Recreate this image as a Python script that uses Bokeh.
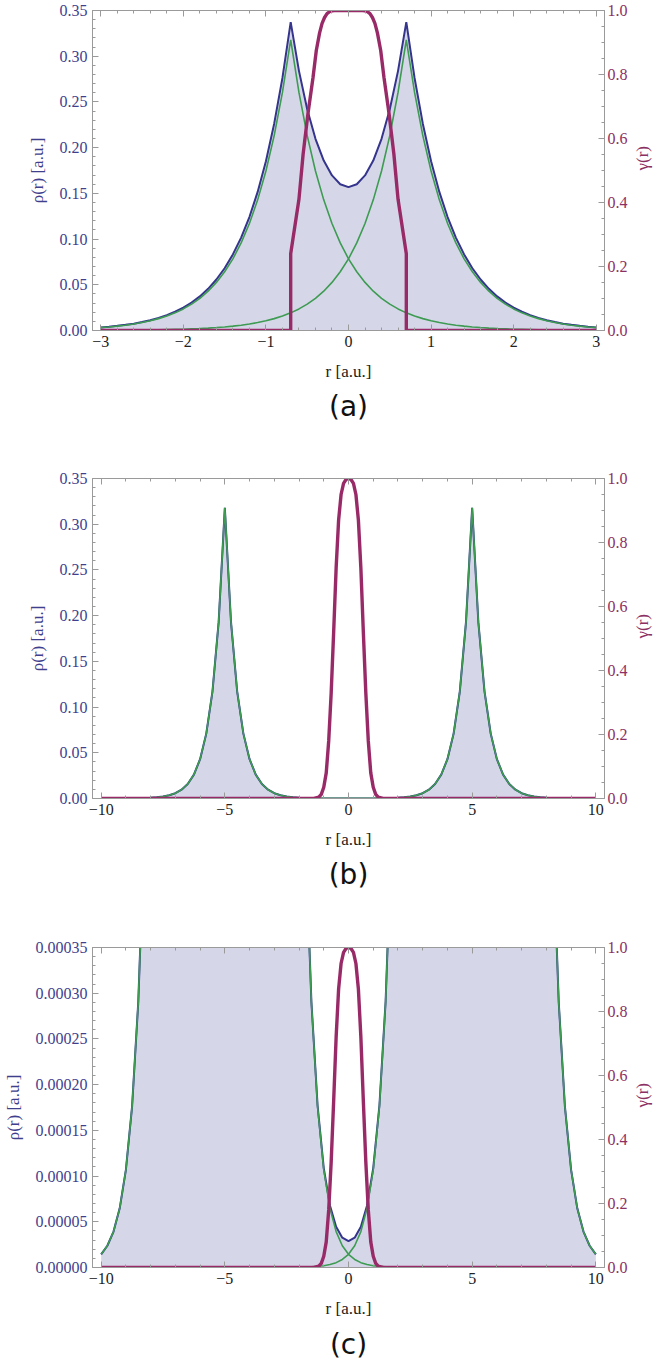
import math
from bokeh.plotting import figure
from bokeh.models import Range1d, LinearAxis, FixedTicker, CustomJSTickFormatter
from bokeh.layouts import column
from bokeh.embed import file_html
from bokeh.resources import INLINE

# ---------------- data: panel (a), nuclei at r = -0.7 and +0.7 ----------------
r_a = [-3.0, -2.9, -2.8, -2.7, -2.6, -2.5, -2.4, -2.3, -2.2, -2.1, -2.0, -1.9, -1.8, -1.7, -1.6,
       -1.5, -1.4, -1.3, -1.2, -1.1, -1.0, -0.9, -0.8, -0.7, -0.6, -0.5, -0.4, -0.3, -0.2, -0.1,
       0.0, 0.1, 0.2, 0.3, 0.4, 0.5, 0.6, 0.7, 0.8, 0.9, 1.0, 1.1, 1.2, 1.3, 1.4,
       1.5, 1.6, 1.7, 1.8, 1.9, 2.0, 2.1, 2.2, 2.3, 2.4, 2.5, 2.6, 2.7, 2.8, 2.9, 3.0]
rho_right_a = [0.0002, 0.0002, 0.0003, 0.0004, 0.0004, 0.0005, 0.0006, 0.0008, 0.0010, 0.0012,
               0.0014, 0.0018, 0.0021, 0.0026, 0.0032, 0.0039, 0.0048, 0.0058, 0.0071, 0.0087,
               0.0106, 0.0130, 0.0158, 0.0193, 0.0236, 0.0288, 0.0352, 0.0430, 0.0526, 0.0642,
               0.0784, 0.0958, 0.1170, 0.1429, 0.1745, 0.2132, 0.2604, 0.318, 0.2604, 0.2132,
               0.1745, 0.1429, 0.1170, 0.0958, 0.0784, 0.0642, 0.0526, 0.0430, 0.0352, 0.0288,
               0.0236, 0.0193, 0.0158, 0.0130, 0.0106, 0.0087, 0.0071, 0.0058, 0.0048, 0.0039, 0.0032]
rho_left_a = [0.0032, 0.0039, 0.0048, 0.0058, 0.0071, 0.0087, 0.0106, 0.0130, 0.0158, 0.0193,
              0.0236, 0.0288, 0.0352, 0.0430, 0.0526, 0.0642, 0.0784, 0.0958, 0.1170, 0.1429,
              0.1745, 0.2132, 0.2604, 0.318, 0.2604, 0.2132, 0.1745, 0.1429, 0.1170, 0.0958,
              0.0784, 0.0642, 0.0526, 0.0430, 0.0352, 0.0288, 0.0236, 0.0193, 0.0158, 0.0130,
              0.0106, 0.0087, 0.0071, 0.0058, 0.0048, 0.0039, 0.0032, 0.0026, 0.0021, 0.0018,
              0.0014, 0.0012, 0.0010, 0.0008, 0.0006, 0.0005, 0.0004, 0.0004, 0.0003, 0.0002, 0.0002]
rho_total_a = [0.0034, 0.0041, 0.0051, 0.0062, 0.0075, 0.0092, 0.0112, 0.0138, 0.0168, 0.0205,
               0.0250, 0.0306, 0.0373, 0.0456, 0.0558, 0.0681, 0.0832, 0.1016, 0.1241, 0.1516,
               0.1851, 0.2262, 0.2762, 0.3373, 0.2840, 0.2420, 0.2097, 0.1859, 0.1696, 0.1600,
               0.1568, 0.1600, 0.1696, 0.1859, 0.2097, 0.2420, 0.2840, 0.3373, 0.2762, 0.2262,
               0.1851, 0.1516, 0.1241, 0.1016, 0.0832, 0.0681, 0.0558, 0.0456, 0.0373, 0.0306,
               0.0250, 0.0205, 0.0168, 0.0138, 0.0112, 0.0092, 0.0075, 0.0062, 0.0051, 0.0041, 0.0034]
gamma_r_a = [-3.0, -0.7, -0.7, -0.6, -0.55, -0.49, -0.43, -0.39, -0.35, -0.32, -0.29, -0.26, -0.23,
             -0.2, -0.17, 0.0, 0.17, 0.2, 0.23, 0.26, 0.29, 0.32, 0.35, 0.39, 0.43, 0.49, 0.55,
             0.6, 0.7, 0.7, 3.0]
gamma_a = [0.0, 0.0, 0.24, 0.41, 0.55, 0.68, 0.79, 0.875, 0.93, 0.96, 0.978, 0.99, 0.996,
           0.999, 1.0, 1.0, 1.0, 0.999, 0.996, 0.99, 0.978, 0.96, 0.93, 0.875, 0.79, 0.68, 0.55,
           0.41, 0.24, 0.0, 0.0]

# ---------------- data: panels (b) and (c), nuclei at r = -5 and +5 ----------------
r_bc = [-10.0, -9.75, -9.5, -9.25, -9.0, -8.75, -8.5, -8.25, -8.0, -7.75, -7.5, -7.25, -7.0, -6.75,
        -6.5, -6.25, -6.0, -5.75, -5.5, -5.25, -5.0, -4.75, -4.5, -4.25, -4.0, -3.75, -3.5, -3.25,
        -3.0, -2.75, -2.5, -2.25, -2.0, -1.75, -1.5, -1.25, -1.0, -0.75, -0.5, -0.25, 0.0,
        0.25, 0.5, 0.75, 1.0, 1.25, 1.5, 1.75, 2.0, 2.25, 2.5, 2.75, 3.0, 3.25, 3.5, 3.75,
        4.0, 4.25, 4.5, 4.75, 5.0, 5.25, 5.5, 5.75, 6.0, 6.25, 6.5, 6.75, 7.0, 7.25, 7.5,
        7.75, 8.0, 8.25, 8.5, 8.75, 9.0, 9.25, 9.5, 9.75, 10.0]
rho_right_bc = [0.0, 0.0, 0.0, 0.0, 0.0, 0.0, 0.0, 0.0, 0.0, 0.0, 0.0, 0.0, 0.0, 0.0, 0.0, 0.0,
                0.0, 0.0, 0.0, 0.0, 0.0, 0.0, 0.0, 0.0, 0.0, 0.0, 0.0, 0.0, 0.0, 0.0, 0.0,
                0.0000002, 0.0000003, 0.0000004, 0.0000007, 0.0000012, 0.0000020, 0.0000032,
                0.0000053, 0.0000088, 0.0000144, 0.0000238, 0.0000393, 0.0000647, 0.0001067,
                0.000176, 0.000290, 0.000478, 0.000788, 0.00130, 0.00214, 0.00353, 0.00582,
                0.00960, 0.01583, 0.02610, 0.04304, 0.07096, 0.11699, 0.19288, 0.318, 0.19288,
                0.11699, 0.07096, 0.04304, 0.02610, 0.01583, 0.00960, 0.00582, 0.00353, 0.00214,
                0.00130, 0.000788, 0.000478, 0.000290, 0.000176, 0.0001067, 0.0000647, 0.0000393,
                0.0000238, 0.0000144]
rho_left_bc = [0.0000144, 0.0000238, 0.0000393, 0.0000647, 0.0001067, 0.000176, 0.000290, 0.000478,
               0.000788, 0.00130, 0.00214, 0.00353, 0.00582, 0.00960, 0.01583, 0.02610, 0.04304,
               0.07096, 0.11699, 0.19288, 0.318, 0.19288, 0.11699, 0.07096, 0.04304, 0.02610,
               0.01583, 0.00960, 0.00582, 0.00353, 0.00214, 0.00130, 0.000788, 0.000478, 0.000290,
               0.000176, 0.0001067, 0.0000647, 0.0000393, 0.0000238, 0.0000144, 0.0000088,
               0.0000053, 0.0000032, 0.0000020, 0.0000012, 0.0000007, 0.0000004, 0.0000003,
               0.0000002, 0.0, 0.0, 0.0, 0.0, 0.0, 0.0, 0.0, 0.0, 0.0, 0.0, 0.0, 0.0, 0.0, 0.0,
               0.0, 0.0, 0.0, 0.0, 0.0, 0.0, 0.0, 0.0, 0.0, 0.0, 0.0, 0.0, 0.0, 0.0, 0.0, 0.0, 0.0]
rho_total_bc = [0.0000144, 0.0000238, 0.0000393, 0.0000647, 0.0001067, 0.000176, 0.000290, 0.000478,
                0.000788, 0.00130, 0.00214, 0.00353, 0.00582, 0.00960, 0.01583, 0.02610, 0.04304,
                0.07096, 0.11699, 0.19288, 0.318, 0.19288, 0.11699, 0.07096, 0.04304, 0.02610,
                0.01583, 0.00960, 0.00582, 0.00353, 0.00214, 0.0013002, 0.0007883, 0.0004784,
                0.0002907, 0.0001772, 0.0001087, 0.0000679, 0.0000446, 0.0000326, 0.0000289,
                0.0000326, 0.0000446, 0.0000679, 0.0001087, 0.0001772, 0.0002907, 0.0004784,
                0.0007883, 0.0013002, 0.00214, 0.00353, 0.00582, 0.00960, 0.01583, 0.02610,
                0.04304, 0.07096, 0.11699, 0.19288, 0.318, 0.19288, 0.11699, 0.07096, 0.04304,
                0.02610, 0.01583, 0.00960, 0.00582, 0.00353, 0.00214, 0.00130, 0.000788, 0.000478,
                0.000290, 0.000176, 0.0001067, 0.0000647, 0.0000393, 0.0000238, 0.0000144]
gamma_r_bc = [-10.0, -1.4, -1.2, -1.1, -1.0, -0.9, -0.8, -0.7, -0.6, -0.5, -0.4, -0.3, -0.2, -0.1,
              0.0, 0.1, 0.2, 0.3, 0.4, 0.5, 0.6, 0.7, 0.8, 0.9, 1.0, 1.1, 1.2, 1.4, 10.0]
gamma_bc = [0.0, 0.0, 0.004, 0.013, 0.035, 0.08, 0.18, 0.33, 0.52, 0.72, 0.87, 0.95, 0.985, 0.997,
            1.0, 0.997, 0.985, 0.95, 0.87, 0.72, 0.52, 0.33, 0.18, 0.08, 0.035, 0.013, 0.004, 0.0, 0.0]

# ---------------- ticks / labels ----------------
x_ticks_a = [-3, -2, -1, 0, 1, 2, 3]
x_labels_a = ["\u22123", "\u22122", "\u22121", "0", "1", "2", "3"]
x_ticks_bc = [-10, -5, 0, 5, 10]
x_labels_bc = ["\u221210", "\u22125", "0", "5", "10"]
y_ticks_ab = [0.0, 0.05, 0.10, 0.15, 0.20, 0.25, 0.30, 0.35]
y_labels_ab = ["0.00", "0.05", "0.10", "0.15", "0.20", "0.25", "0.30", "0.35"]
y_ticks_c = [0.0, 0.00005, 0.0001, 0.00015, 0.0002, 0.00025, 0.0003, 0.00035]
y_labels_c = ["0.00000", "0.00005", "0.00010", "0.00015", "0.00020", "0.00025", "0.00030", "0.00035"]
g_ticks = [0.0, 0.2, 0.4, 0.6, 0.8, 1.0]
g_labels = ["0.0", "0.2", "0.4", "0.6", "0.8", "1.0"]

# ---------------- styles ----------------
SERIF = "Liberation Serif"
BLUE_TXT = "#3f3f8e"
BLUE = "#35358e"
GREEN = "#3d9b52"
FILL = "#d5d7e8"
GAMMA = "#992a68"
GAMMA_TXT = "#8c3063"
FRAME = "#9a9a9a"
TICK_FS = "16px"
LABEL_FS = "17px"


def lookup_fmt(tvals, tlabels):
    return CustomJSTickFormatter(args=dict(tvals=tvals, tlabels=tlabels), code="""
let best = 0;
for (let i = 0; i < tvals.length; i++) {
  if (Math.abs(tvals[i] - tick) < Math.abs(tvals[best] - tick)) best = i;
}
return tlabels[best];
""")


def fixed_ticker(ticks, n):
    minor = []
    for a, b in zip(ticks[:-1], ticks[1:]):
        for k in range(1, n):
            minor.append(a + (b - a) * k / n)
    return FixedTicker(ticks=ticks, minor_ticks=minor)


def style_axis(ax, color):
    ax.axis_line_color = FRAME
    ax.major_tick_line_color = FRAME
    ax.minor_tick_line_color = FRAME
    ax.major_tick_in = 6
    ax.major_tick_out = 0
    ax.minor_tick_in = 3
    ax.minor_tick_out = 0
    ax.major_label_text_font = SERIF
    ax.major_label_text_font_size = TICK_FS
    ax.major_label_text_color = color
    ax.axis_label_text_font = SERIF
    ax.axis_label_text_font_size = LABEL_FS
    ax.axis_label_text_font_style = "normal"


def panel(tag, height, bottom, r, rl, rr, rt, gr, g, xpad, x_ticks, x_labels,
          y_end, y_ticks, y_labels, title_standoff):
    p = figure(width=664, height=height, title=tag, title_location="below",
               x_range=Range1d(-xpad, xpad), y_range=Range1d(0, y_end),
               output_backend="svg", toolbar_location=None,
               min_border_left=90, min_border_right=54, min_border_top=10,
               min_border_bottom=bottom)
    p.extra_y_ranges = {"g": Range1d(0, 1)}
    p.grid.visible = False
    p.outline_line_color = FRAME
    p.title.align = "center"
    p.title.text_font = "DejaVu Sans"
    p.title.text_font_size = "28px"
    p.title.text_font_style = "normal"
    p.title.text_color = "#111111"
    p.title.standoff = title_standoff

    xa = p.xaxis[0]
    xa.ticker = fixed_ticker(x_ticks, 5)
    xa.formatter = lookup_fmt(x_ticks, x_labels)
    style_axis(xa, "#222222")
    xa.axis_label = "r [a.u.]"
    xa.axis_label_text_color = "#222222"
    xa.major_label_standoff = 5
    xa.axis_label_standoff = 12

    ya = p.yaxis[0]
    ya.ticker = fixed_ticker(y_ticks, 5)
    ya.formatter = lookup_fmt(y_ticks, y_labels)
    style_axis(ya, BLUE_TXT)
    ya.axis_label = "\u03c1(r) [a.u.]"
    ya.axis_label_text_color = BLUE_TXT
    ya.major_label_standoff = 5
    ya.axis_label_standoff = 10

    top = LinearAxis(ticker=fixed_ticker(x_ticks, 5),
                     formatter=CustomJSTickFormatter(code="return ''"))
    style_axis(top, "#222222")
    p.add_layout(top, "above")

    ra = LinearAxis(y_range_name="g", ticker=fixed_ticker(g_ticks, 4),
                    formatter=lookup_fmt(g_ticks, g_labels), axis_label="\u03b3(r)")
    style_axis(ra, GAMMA_TXT)
    ra.axis_label_text_color = GAMMA_TXT
    ra.axis_label_orientation = math.pi / 2
    ra.major_label_standoff = 3
    ra.axis_label_standoff = 12
    p.add_layout(ra, "right")

    p.varea(x=r, y1=0, y2=rt, fill_color=FILL)
    p.line(r, rt, line_color=BLUE, line_width=2)
    p.line(r, rl, line_color=GREEN, line_width=1.6)
    p.line(r, rr, line_color=GREEN, line_width=1.6)
    p.line(gr, g, line_color=GAMMA, line_width=3.4, y_range_name="g")
    return p


pa = panel("(a)", 468, 138, r_a, rho_left_a, rho_right_a, rho_total_a, gamma_r_a, gamma_a,
           3.1, x_ticks_a, x_labels_a, 0.35, y_ticks_ab, y_labels_ab, 8)
pb = panel("(b)", 469, 139, r_bc, rho_left_bc, rho_right_bc, rho_total_bc, gamma_r_bc, gamma_bc,
           10.35, x_ticks_bc, x_labels_bc, 0.35, y_ticks_ab, y_labels_ab, 8)
pc = panel("(c)", 431, 101, r_bc, rho_left_bc, rho_right_bc, rho_total_bc, gamma_r_bc, gamma_bc,
           10.35, x_ticks_bc, x_labels_bc, 0.00035, y_ticks_c, y_labels_c, 11)

layout = column(pa, pb, pc, spacing=0)
open("out.html", "w").write(file_html(layout, INLINE))
